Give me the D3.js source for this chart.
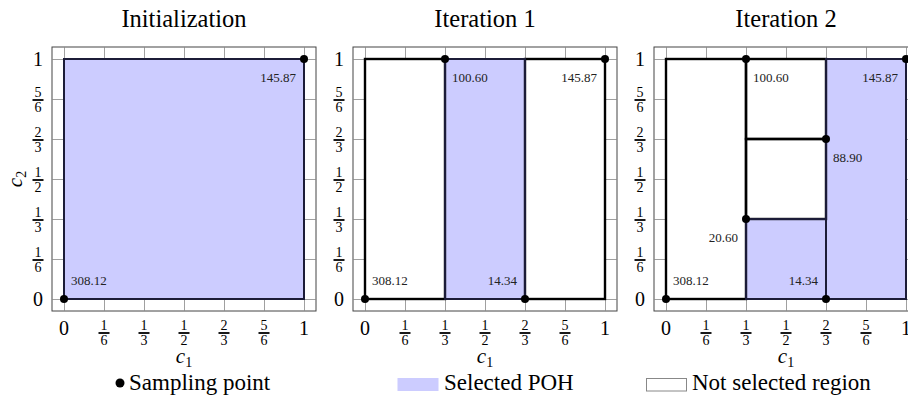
<!DOCTYPE html>
<html>
<head>
<meta charset="utf-8">
<script src="https://cdn.jsdelivr.net/npm/d3@7"></script>
</head>
<body style="margin:0; overflow:hidden">
<div class="chart"></div>
<script>
var svgWidth = 908;
var svgHeight = 420;

// tick positions on both axes and their labels
var tickValues = [0, 1/6, 1/3, 1/2, 2/3, 5/6, 1];
var tickLabels = ["0", "1/6", "1/3", "1/2", "2/3", "5/6", "1"];

var panelTitles = ["Initialization", "Iteration 1", "Iteration 2"];

// regions: [c1 from, c1 to, c2 from, c2 to, selected]
var regionsInit = [[0, 1, 0, 1, true]];
var regionsIter1 = [
    [0, 1/3, 0, 1, false],
    [1/3, 2/3, 0, 1, true],
    [2/3, 1, 0, 1, false]
];
var regionsIter2 = [
    [0, 1/3, 0, 1, false],
    [1/3, 2/3, 0, 1/3, true],
    [1/3, 2/3, 1/3, 2/3, false],
    [1/3, 2/3, 2/3, 1, false],
    [2/3, 1, 0, 1, true]
];

// sampling points: [c1, c2, value, label corner]
var pointsInit = [[0, 0, "308.12", "ne"], [1, 1, "145.87", "sw"]];
var pointsIter1 = [
    [0, 0, "308.12", "ne"], [1/3, 1, "100.60", "se"],
    [2/3, 0, "14.34", "nw"], [1, 1, "145.87", "sw"]
];
var pointsIter2 = [
    [0, 0, "308.12", "ne"], [1/3, 1, "100.60", "se"],
    [2/3, 0, "14.34", "nw"], [1, 1, "145.87", "sw"],
    [2/3, 2/3, "88.90", "se"], [1/3, 1/3, "20.60", "sw"]
];

var allRegions = [regionsInit, regionsIter1, regionsIter2];
var allPoints = [pointsInit, pointsIter1, pointsIter2];

var legendLabels = ["Sampling point", "Selected POH", "Not selected region"];

var selFill = "#ccccff";
var font = "'Liberation Serif'";
var size = 240;     // plot area
var pad = 12;       // gap between plot area and axis frame
var top0 = 59;
var panelLeft = [64, 365, 666];

var svg = d3.select(".chart")
    .append("svg")
    .attr("width", svgWidth)
    .attr("height", svgHeight);

var x = d3.scaleLinear().domain([0, 1]).range([0, size]);
var y = d3.scaleLinear().domain([0, 1]).range([size, 0]);

function addText(g, px, py, fs, anchor) {
    return g.append("text")
        .attr("x", px).attr("y", py)
        .attr("text-anchor", anchor)
        .style("font-family", font)
        .style("font-size", fs + "px")
        .style("fill", "#000");
}

function fracLabel(g, label, cx, barY) {
    var parts = label.split("/");
    if (parts.length == 1) {
        addText(g, cx, barY, 20, "middle").text(label);
        return;
    }
    addText(g, cx, barY - 3, 14, "middle").text(parts[0]);
    g.append("line")
        .attr("x1", cx - 5.5).attr("x2", cx + 5.5)
        .attr("y1", barY).attr("y2", barY)
        .attr("stroke", "#000")
        .attr("stroke-width", 1.8);
    addText(g, cx, barY + 11.5, 14, "middle").text(parts[1]);
}

panelTitles.forEach(function(title, i) {
    var g = svg.append("g")
        .attr("transform", `translate(${panelLeft[i]}, ${top0})`);

    // axis frame
    g.append("rect")
        .attr("x", -pad).attr("y", -pad)
        .attr("width", size + 2 * pad).attr("height", size + 2 * pad)
        .attr("fill", "none")
        .attr("stroke", "#444")
        .attr("stroke-width", 1);

    // inward ticks on four sides
    var axes = [
        [d3.axisBottom(x), `translate(0, ${size + pad})`],
        [d3.axisTop(x), `translate(0, ${-pad})`],
        [d3.axisLeft(y), `translate(${-pad}, 0)`],
        [d3.axisRight(y), `translate(${size + pad}, 0)`]
    ];
    axes.forEach(function(a) {
        var ax = g.append("g")
            .attr("transform", a[1])
            .call(a[0].tickValues(tickValues).tickFormat("").tickSizeInner(-pad).tickSizeOuter(0));
        ax.select(".domain").remove();
        ax.selectAll("text").remove();
        ax.selectAll("line").attr("stroke", "#888").attr("stroke-width", 0.8);
    });

    // tick labels
    tickValues.forEach(function(v, k) {
        var lab = tickLabels[k];
        fracLabel(g, lab, x(v), lab.indexOf("/") < 0 ? size + 36 : size + 34);
        fracLabel(g, lab, -26, lab.indexOf("/") < 0 ? y(v) + 7 : y(v) + 1);
    });

    // regions
    var regs = allRegions[i];
    g.selectAll(".reg").data(regs).enter()
        .append("rect")
        .attr("x", d => x(d[0]))
        .attr("y", d => y(d[3]))
        .attr("width", d => x(d[1]) - x(d[0]))
        .attr("height", d => y(d[2]) - y(d[3]))
        .attr("fill", d => d[4] ? selFill : "#fff")
        .attr("stroke", "none");
    g.selectAll(".regOff").data(regs.filter(d => !d[4])).enter()
        .append("rect")
        .attr("x", d => x(d[0]))
        .attr("y", d => y(d[3]))
        .attr("width", d => x(d[1]) - x(d[0]))
        .attr("height", d => y(d[2]) - y(d[3]))
        .attr("fill", "none")
        .attr("stroke", "#000")
        .attr("stroke-width", 2.4);
    g.selectAll(".regOn").data(regs.filter(d => d[4])).enter()
        .append("rect")
        .attr("x", d => x(d[0]))
        .attr("y", d => y(d[3]))
        .attr("width", d => x(d[1]) - x(d[0]))
        .attr("height", d => y(d[2]) - y(d[3]))
        .attr("fill", "none")
        .attr("stroke", "#1c1c38")
        .attr("stroke-width", 2);

    // sampling points and their values
    var pts = allPoints[i];
    g.selectAll("circle").data(pts).enter()
        .append("circle")
        .attr("cx", d => x(d[0]))
        .attr("cy", d => y(d[1]))
        .attr("r", 4)
        .attr("fill", "#000");
    pts.forEach(function(d) {
        var east = d[3][1] == "e";
        addText(g, x(d[0]) + (east ? 7 : -8), y(d[1]) + (d[3][0] == "n" ? -14 : 23),
                13, east ? "start" : "end")
            .style("fill", "#222")
            .text(d[2]);
    });

    // title
    addText(g, size / 2, 27 - top0, 24.5, "middle").text(title);

    // x label
    var xl = addText(g, size / 2, 363 - top0, 21, "middle");
    xl.append("tspan").style("font-style", "italic").text("c");
    xl.append("tspan").attr("dy", 4).style("font-size", "14px").text("1");

    if (i == 0) {
        var yl = addText(g, 0, 0, 21, "middle")
            .attr("transform", `translate(${22 - panelLeft[0]}, ${179 - top0}) rotate(-90)`);
        yl.append("tspan").style("font-style", "italic").text("c");
        yl.append("tspan").attr("dy", 4).style("font-size", "14px").text("2");
    }
});

// legend
svg.append("circle").attr("cx", 120).attr("cy", 383).attr("r", 4.5).attr("fill", "#000");
svg.append("rect").attr("x", 397.5).attr("y", 378).attr("width", 41).attr("height", 13)
    .attr("fill", selFill);
svg.append("rect").attr("x", 646.5).attr("y", 378.5).attr("width", 40).attr("height", 12.5)
    .attr("fill", "#fff").attr("stroke", "#888").attr("stroke-width", 1);
var legX = [129, 444, 692];
legendLabels.forEach(function(t, k) {
    addText(svg, legX[k], 390, 23, "start").text(t);
});
</script>
</body>
</html>
